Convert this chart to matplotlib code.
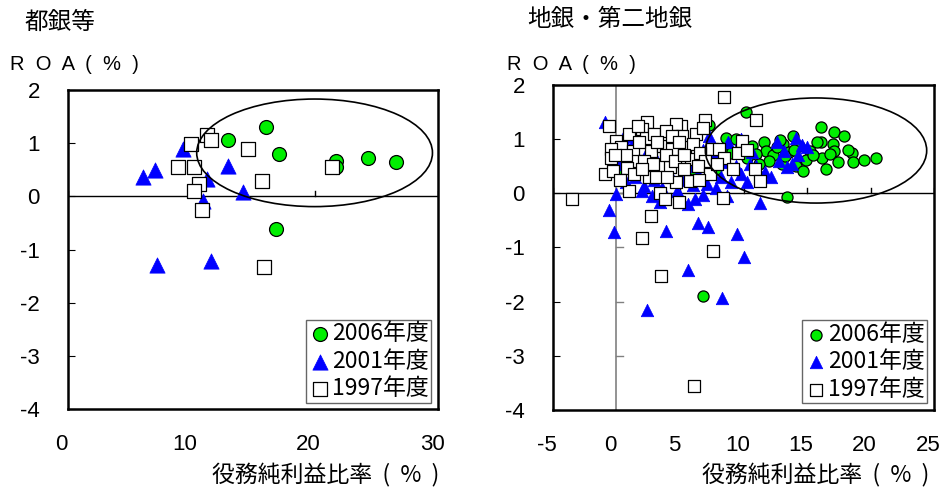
import matplotlib.pyplot as plt
import matplotlib.transforms as mtransforms
from matplotlib.patches import Ellipse

plt.rcParams['font.family'] = ['Liberation Sans', 'Noto Sans CJK JP', 'DejaVu Sans']

# 都銀等
city_2006_x = [13.0, 16.1, 17.1, 21.7, 21.7, 24.3, 26.6, 16.9]
city_2006_y = [1.07, 1.31, 0.80, 0.66, 0.56, 0.72, 0.64, -0.61]
city_2001_x = [6.1, 7.1, 9.3, 11.3, 11.0, 13.0, 14.2, 7.2, 11.6]
city_2001_y = [0.37, 0.50, 0.90, 0.32, -0.09, 0.58, 0.09, -1.28, -1.21]
city_1997_x = [10.0, 11.3, 11.6, 8.9, 10.2, 14.6, 15.7, 10.6, 10.2, 10.9, 21.4, 15.9]
city_1997_y = [0.99, 1.15, 1.07, 0.56, 0.56, 0.90, 0.30, 0.24, 0.10, -0.26, 0.56, -1.33]

# 地銀・第二地銀
reg_2006_x = [10.2, 7.3, 8.6, 9.4, 10.7, 11.6, 11.8, 12.3, 13.1, 13.6, 14.1, 14.7, 15.2,
              16.1, 16.1, 16.2, 16.5, 17.0, 17.1, 17.1, 17.9, 18.5, 18.6, 19.5, 20.4,
              13.4, 13.9, 6.8, 9.8, 10.3, 11.0, 12.0, 12.6, 13.0, 14.4, 14.9, 15.5,
              15.8, 13.3, 12.9, 11.2, 9.0, 8.2, 14.0, 16.8, 17.4, 18.2, 7.8, 0.3, 6.0]
reg_2006_y = [1.51, 1.26, 1.03, 1.00, 0.88, 0.94, 0.79, 0.70, 0.91, 0.76, 0.51, 0.42, 0.79,
              1.22, 0.94, 0.66, 0.45, 0.91, 0.79, 1.13, 1.06, 0.74, 0.57, 0.62, 0.66,
              -0.07, 1.06, -1.90, 0.85, 0.65, 0.72, 0.60, 0.85, 0.55, 0.88, 0.62, 0.70,
              0.95, 0.68, 0.98, 0.55, 0.75, 0.80, 0.80, 0.72, 0.58, 0.80, 0.45, 0.38, 0.45]
reg_2001_x = [-0.9, 1.05, 0.5, 14.1, 13.2, 14.3, 13.4, 12.8, 10.7, 9.4, 8.6, 7.1, 6.8,
              11.3, 0.0, -0.6, 2.2, -0.2, 3.9, 6.4, 7.2, 9.5, 10.0, 5.6, 8.3, 2.4, 5.6,
              3.4, 1.5, 2.0, 3.0, 3.6, 4.2, 4.8, 5.3, 6.0, 6.4, 7.5, 7.8, 8.2, 9.0,
              9.8, 10.3, 11.0, 11.7, 12.2, 13.8, 14.6, 1.2, 2.5, 3.2, 4.5, 5.8, 6.8,
              7.7, 8.8, 9.8, 10.5, 0.2, 0.8, 5.0, 6.2, 8.7, 12.6, 15.0, 7.3, 2.8]
reg_2001_y = [1.31, 1.06, 1.03, 1.03, 0.79, 0.70, 0.48, 0.60, 0.76, 0.51, 0.57, 0.17, -0.04,
              -0.17, -0.01, -0.31, 0.14, -0.72, -0.70, -0.55, -0.62, -0.75, -1.17, -1.41,
              -1.93, -2.15, -0.19, -0.16, 0.30, 0.05, 0.25, 0.10, 0.35, 0.05, 0.25, 0.15,
              0.35, 0.40, 0.10, 0.30, 0.20, 0.35, 0.20, 0.50, 0.40, 0.30, 0.55, 0.90,
              0.90, 0.80, 0.60, 0.70, 0.50, 0.80, 0.75, 0.95, 1.00, 0.55, 0.55, 0.20,
              -0.05, -0.10, -0.05, 0.95, 0.85, 1.05, -0.05]
reg_1997_x = [8.5, 11.0, -0.6, 2.4, 7.0, 5.1, 4.7, 2.0, 6.3, 5.2, 2.3, 0.0, 0.4, -0.45,
              1.3, 2.7, 3.7, 4.4, 5.4, 6.0, 7.5, 8.1, 9.9, -0.4, 1.6, 3.4, 5.9, 8.5, 0.85,
              -0.85, -0.25, 2.6, 4.7, 5.8, 10.9, 11.3, 1.0, 3.4, 8.4, -3.5, 2.7, 4.2,
              2.0, 7.6, 3.5, 6.1, 4.9, 1.0, 3.0, 3.9, 4.4, 6.8, 1.8, 3.2, 4.9, 6.6, 7.0,
              0.8, 2.2, 2.9, 3.9, 4.6, 5.3, 6.4, 7.4, 1.4, 2.0, 3.1, 4.0, 5.3, 6.5, 0.3,
              -0.1, 1.7, 9.2, 9.6, 7.9, 10.3, 3.8]
reg_1997_y = [1.78, 1.35, 1.24, 1.31, 1.36, 1.25, 1.28, 1.19, 1.09, 1.06, 1.03, 0.97, 0.85,
              0.82, 0.79, 0.79, 0.88, 0.81, 0.85, 0.91, 0.82, 0.82, 0.96, 0.66, 0.60, 0.51,
              0.63, 0.66, 0.47, 0.36, 0.42, 0.30, 0.20, 0.23, 0.44, 0.23, 0.05, 0.00, -0.09,
              -0.10, -0.41, 0.48, -0.82, -1.07, -1.53, -3.56, -0.16, 1.10, 1.10, 1.15, 1.05,
              1.20, 0.95, 0.95, 0.95, 0.75, 0.60, 0.70, 0.60, 0.55, 0.70, 0.60, 0.70, 0.50,
              0.35, 0.35, 0.45, 0.30, 0.30, 0.45, 0.25, 0.25, 0.70, 1.25, 0.45, 0.75, 0.55,
              0.80, -0.10]

labels = ['2006年度', '2001年度', '1997年度']
y_ticks = [-4, -3, -2, -1, 0, 1, 2]
cjk = ['Noto Sans CJK JP', 'DejaVu Sans']

fig = plt.figure(figsize=(9.43, 4.92), dpi=100)
ax1 = fig.add_axes([0.0718, 0.1677, 0.3927, 0.6494])
ax2 = fig.add_axes([0.5861, 0.1667, 0.4047, 0.6606])


def draw(ax, x6, y6, x1, y1, x9, y9, ms, xlim, xticks, ell, vline):
    ax.scatter(x6, y6, s=ms[0] ** 2, marker='o', facecolor='#00ee00', edgecolor='black',
               linewidth=0.9, label=labels[0], zorder=3)
    ax.scatter(x1, y1, s=ms[1] ** 2, marker='^', facecolor='#0000ff', edgecolor='#0000ff',
               linewidth=0.5, label=labels[1], zorder=4)
    ax.scatter(x9, y9, s=ms[2] ** 2, marker='s', facecolor='white', edgecolor='black',
               linewidth=0.9, label=labels[2], zorder=5)
    ax.set_xlim(*xlim)
    ax.set_ylim(-4, 2)
    ax.set_xticks(xticks)
    ax.set_xticklabels([str(v) for v in xticks])
    ax.set_yticks(y_ticks)
    ax.set_yticklabels([str(v) for v in y_ticks])
    ax.tick_params(axis='x', length=0, pad=18, labelsize=16)
    ax.tick_params(axis='y', direction='in', length=5, pad=20, labelsize=16)
    for s in ax.spines.values():
        s.set_linewidth(1.8)
    # zero axis with its ticks
    ax.axhline(0, color='black', lw=1, zorder=1)
    for t in xticks:
        ax.plot([t, t], [0, 0.1], color='black', lw=1, zorder=1)
    if vline:
        ax.axvline(0, color='#808080', lw=1.2, zorder=1)
        for t in range(-3, 2):
            ax.plot([0, 0.5], [t, t], color='#808080', lw=1, zorder=1)
    ax.add_patch(Ellipse(ell[0], ell[1], ell[2], fill=False, edgecolor='black', lw=1.2,
                         zorder=6))
    offset = mtransforms.ScaledTranslation(-6 / 100, 0, fig.dpi_scale_trans)
    for lbl in ax.get_xticklabels():
        lbl.set_transform(lbl.get_transform() + offset)
    leg = ax.legend(loc='lower right', frameon=True, fancybox=False,
                    prop={'family': cjk, 'size': 16.5},
                    handletextpad=0.05, borderpad=0.1, labelspacing=0.2, handlelength=1.0,
                    borderaxespad=0.3)
    leg.get_frame().set_edgecolor('#404040')
    leg.get_frame().set_linewidth(1)
    leg.set_zorder(10)


draw(ax1, city_2006_x, city_2006_y, city_2001_x, city_2001_y, city_1997_x, city_1997_y,
     (10, 11, 10.5), (0, 30), [0, 10, 20, 30], ((20.0, 0.82), 19.1, 2.02), False)
draw(ax2, reg_2006_x, reg_2006_y, reg_2001_x, reg_2001_y, reg_1997_x, reg_1997_y,
     (8, 9, 8), (-5, 25), [-5, 0, 5, 10, 15, 20, 25], ((15.7, 0.79), 17.4, 1.94), True)

W, H = 943, 492
fig.text(25 / W, 1 - 22 / H, '都銀等', family=cjk, fontsize=17, va='center', ha='left')
fig.text(527 / W, 1 - 20 / H, '地銀・第二地銀', family=cjk, fontsize=17, va='center', ha='left')
fig.text(10 / W, 1 - 64 / H, 'R  O  A  (  %  )', fontsize=14.5, va='center', ha='left')
fig.text(507 / W, 1 - 65 / H, 'R  O  A  (  %  )', fontsize=14.5, va='center', ha='left')
fig.text(212 / W, 1 - 475 / H, '役務純利益比率  (  %  )', family=cjk, fontsize=16.5,
         va='center', ha='left')
fig.text(702 / W, 1 - 475 / H, '役務純利益比率  (  %  )', family=cjk, fontsize=16.5,
         va='center', ha='left')

fig.savefig('out.png', dpi=100)
